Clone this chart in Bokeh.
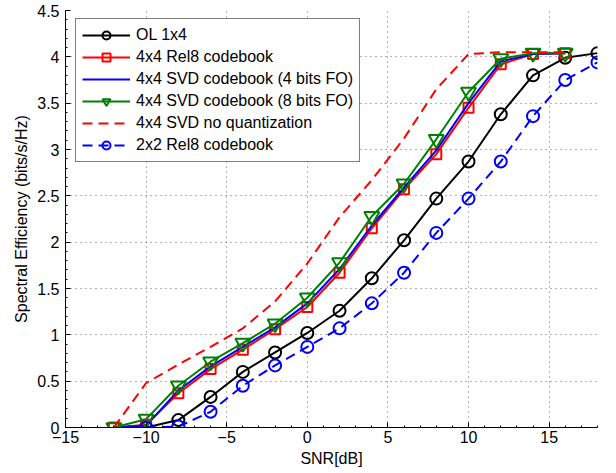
from bokeh.plotting import figure
from bokeh.models import Range1d, FixedTicker, Legend, LegendItem
from bokeh.embed import file_html
from bokeh.resources import INLINE

# ---- data ----
snr_a = [-10, -8, -6, -4, -2, 0, 2, 4, 6, 8, 10, 12, 14, 16, 18]
snr_b = [-12, -10, -8, -6, -4, -2, 0, 2, 4, 6, 8, 10, 12, 14, 16]

ol_1x4 = [0.0, 0.08, 0.33, 0.60, 0.81, 1.02, 1.26, 1.61, 2.02, 2.47, 2.87, 3.38, 3.80, 3.99, 4.04]
rel8_2x2 = [0.0, 0.01, 0.17, 0.45, 0.67, 0.87, 1.07, 1.34, 1.67, 2.10, 2.47, 2.87, 3.36, 3.75, 3.94]
rel8_4x4 = [0.0, 0.03, 0.37, 0.63, 0.84, 1.06, 1.30, 1.67, 2.15, 2.57, 2.95, 3.45, 3.92, 4.03, 4.04]
svd4_4x4 = [0.0, 0.02, 0.40, 0.66, 0.87, 1.08, 1.34, 1.71, 2.18, 2.59, 2.99, 3.50, 3.95, 4.03, 4.04]
svd8_4x4 = [0.0, 0.09, 0.45, 0.71, 0.91, 1.12, 1.40, 1.78, 2.28, 2.63, 3.11, 3.62, 3.98, 4.04, 4.04]
svd_noq_4x4 = [0.0, 0.48, 0.68, 0.87, 1.07, 1.36, 1.77, 2.27, 2.67, 3.12, 3.65, 4.03, 4.05, 4.05, 4.05]

labels = ["OL 1x4", "4x4 Rel8 codebook", "4x4 SVD codebook (4 bits FO)",
          "4x4 SVD codebook (8 bits FO)", "4x4 SVD no quantization", "2x2 Rel8 codebook"]

x_ticks = [-15, -10, -5, 0, 5, 10, 15]
x_tick_labels = ["\u221215", "\u221210", "\u22125", "0", "5", "10", "15"]
y_ticks = [0, 0.5, 1, 1.5, 2, 2.5, 3, 3.5, 4, 4.5]
y_tick_labels = ["0", "0.5", "1", "1.5", "2", "2.5", "3", "3.5", "4", "4.5"]
x_minor = list(range(-15, 19))
y_minor = [i / 10 for i in range(0, 46)]

FONT = "Liberation Sans"

p = figure(width=616, height=473, output_backend="svg", toolbar_location=None,
           x_range=Range1d(-15, 18), y_range=Range1d(0, 4.5),
           min_border_left=65, min_border_right=19, min_border_top=10, min_border_bottom=46)
p.outline_line_color = None
p.background_fill_color = "white"

for ax, ticks, tl, minor in ((p.xaxis[0], x_ticks, x_tick_labels, x_minor),
                             (p.yaxis[0], y_ticks, y_tick_labels, y_minor)):
    ax.ticker = FixedTicker(ticks=ticks, minor_ticks=minor)
    ax.major_label_overrides = {float(t): s for t, s in zip(ticks, tl)}
    ax.major_label_text_font = FONT
    ax.major_label_text_font_size = "16px"
    ax.major_label_text_color = "black"
    ax.axis_label_text_font = FONT
    ax.axis_label_text_font_size = "16px"
    ax.axis_label_text_font_style = "normal"
    ax.axis_label_text_color = "black"
    ax.major_tick_in = 5
    ax.major_tick_out = 0
    ax.minor_tick_in = 2
    ax.minor_tick_out = 0
    ax.axis_line_color = "black"
    ax.major_tick_line_color = "black"
    ax.minor_tick_line_color = "black"

p.xaxis.axis_label = "SNR[dB]"
p.yaxis.axis_label = "Spectral Efficiency (bits/s/Hz)"
p.xaxis.major_label_standoff = 3
p.xaxis.axis_label_standoff = 4
p.yaxis.major_label_standoff = 6
p.yaxis.axis_label_standoff = 4

for g, ticks in ((p.xgrid[0], x_ticks), (p.ygrid[0], y_ticks)):
    g.ticker = FixedTicker(ticks=ticks)
    g.grid_line_color = "black"
    g.grid_line_alpha = 0.6
    g.grid_line_dash = "1 4"
    g.grid_line_width = 1

items = []

# OL 1x4
r1 = p.line(snr_a, ol_1x4, line_color="black", line_width=2)
m1 = p.scatter(snr_a, ol_1x4, marker="circle", size=12, line_color="black", line_width=2, fill_color=None)
items.append(LegendItem(label=labels[0], renderers=[r1, m1]))

# 4x4 Rel8
r2 = p.line(snr_b, rel8_4x4, line_color="#ff0000", line_width=2)
m2 = p.scatter(snr_b, rel8_4x4, marker="square", size=10, line_color="#ff0000", line_width=2, fill_color=None)
items.append(LegendItem(label=labels[1], renderers=[r2, m2]))

# 4x4 SVD 4 bits
r3 = p.line(snr_b, svd4_4x4, line_color="#0000ff", line_width=2)
items.append(LegendItem(label=labels[2], renderers=[r3]))

# 4x4 SVD 8 bits
r4 = p.line(snr_b, svd8_4x4, line_color="#008000", line_width=2)
m4 = p.scatter(snr_b, svd8_4x4, marker="inverted_triangle", size=15, line_color="#008000", line_width=2, fill_color=None)
items.append(LegendItem(label=labels[3], renderers=[r4, m4]))

# 4x4 SVD no quantization
r5 = p.line(snr_b, svd_noq_4x4, line_color="#ff0000", line_width=2, line_dash="10 6")
items.append(LegendItem(label=labels[4], renderers=[r5]))

# 2x2 Rel8
r6 = p.line(snr_a, rel8_2x2, line_color="#0000ff", line_width=2, line_dash="10 6")
m6 = p.scatter(snr_a, rel8_2x2, marker="circle", size=12, line_color="#0000ff", line_width=2, fill_color=None)
items.append(LegendItem(label=labels[5], renderers=[r6, m6]))

legend = Legend(items=items, location=(10, 265))
legend.label_text_font = FONT
legend.label_text_font_size = "16px"
legend.label_text_color = "black"
legend.glyph_width = 48
legend.glyph_height = 20
legend.label_height = 20
legend.label_standoff = 6
legend.spacing = 2
legend.padding = 6
legend.margin = 0
legend.border_line_color = "black"
legend.border_line_width = 1
legend.background_fill_color = "white"
legend.background_fill_alpha = 1
p.add_layout(legend, "center")

open("out.html", "w").write(file_html(p, INLINE))
